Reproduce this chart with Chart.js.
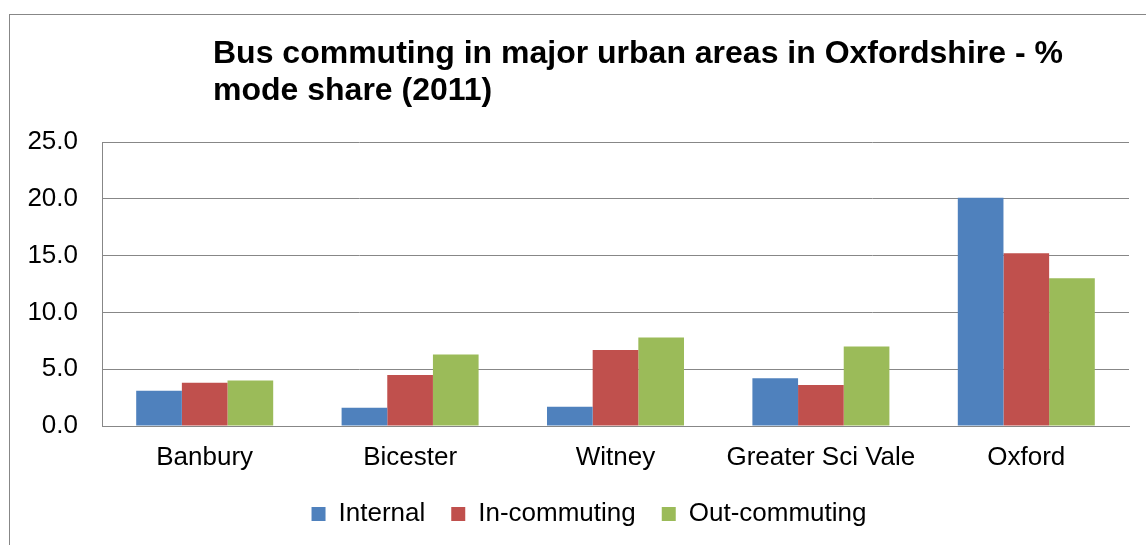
<!DOCTYPE html>
<html>
<head>
<meta charset="utf-8">
<title>Bus commuting in major urban areas in Oxfordshire</title>
<script src="https://cdn.jsdelivr.net/npm/chart.js@4/dist/chart.umd.min.js"></script>
<style>
    html, body { margin: 0; padding: 0; background: #fff; overflow: hidden; }
    canvas { display: block; }
</style>
</head>
<body>
<canvas id="busChart" width="1146" height="545"></canvas>
<script>
// Data
const areas = ["Banbury", "Bicester", "Witney", "Greater Sci Vale", "Oxford"];
const internal = [3.1, 1.6, 1.7, 4.2, 20.1];
const inCommuting = [3.8, 4.5, 6.7, 3.6, 15.2];
const outCommuting = [4.0, 6.3, 7.8, 7.0, 13.0];
const seriesNames = ["Internal", "In-commuting", "Out-commuting"];
const titleLines = ["Bus commuting in major urban areas in Oxfordshire - %", "mode share (2011)"];

const colors = ["#4F81BD", "#C0504D", "#9BBB59"];
const gridColor = "#878787";
const fontFamily = "'Liberation Sans', Arial, sans-serif";

// Chart frame and title (title sits off-centre, as in the original)
const frameAndTitle = {
    id: 'frameAndTitle',
    afterLayout(chart) {
        // legend in the original is centred a bit right of the canvas middle
        if (chart.legend) chart.legend.left += 21;
    },
    beforeDraw(chart) {
        const ctx = chart.ctx;
        ctx.save();
        ctx.fillStyle = '#fff';
        ctx.fillRect(0, 0, chart.width, chart.height);
        ctx.strokeStyle = gridColor;
        ctx.lineWidth = 1;
        ctx.strokeRect(9.5, 14.5, 3000, 3000);
        ctx.restore();
    },
    afterDraw(chart) {
        const ctx = chart.ctx;
        ctx.save();
        ctx.font = "bold 32px " + fontFamily;
        ctx.fillStyle = '#000';
        ctx.textAlign = 'left';
        ctx.textBaseline = 'alphabetic';
        ctx.fillText(titleLines[0], 213, 63);
        ctx.fillText(titleLines[1], 213, 100);
        ctx.restore();
    }
};

const seriesData = [internal, inCommuting, outCommuting];

new Chart(document.getElementById('busChart').getContext('2d'), {
    type: 'bar',
    data: {
        labels: areas,
        datasets: seriesNames.map((name, i) => ({
            label: name,
            data: seriesData[i],
            backgroundColor: colors[i],
            borderWidth: 0,
            categoryPercentage: 0.667,
            barPercentage: 1.0
        }))
    },
    options: {
        responsive: false,
        animation: false,
        layout: {
            padding: { top: 142, left: 28, right: 17, bottom: 8 }
        },
        plugins: {
            title: { display: false },
            tooltip: { enabled: false },
            legend: {
                position: 'bottom',
                labels: {
                    boxWidth: 14,
                    boxHeight: 14,
                    padding: 26,
                    color: '#000',
                    font: { family: fontFamily, size: 26 }
                }
            }
        },
        scales: {
            x: {
                grid: { display: false, drawTicks: false },
                border: { display: true, color: gridColor, width: 1 },
                ticks: {
                    color: '#000',
                    padding: 16,
                    maxRotation: 0,
                    autoSkip: false,
                    font: { family: fontFamily, size: 26 }
                },
                afterFit(scale) { scale.height = 49; }
            },
            y: {
                min: 0,
                max: 25,
                grid: { color: gridColor, lineWidth: 1, drawTicks: false },
                border: { display: true, color: gridColor, width: 1 },
                ticks: {
                    stepSize: 5,
                    padding: 24,
                    color: '#000',
                    font: { family: fontFamily, size: 26 },
                    callback: v => v.toFixed(1)
                },
                afterFit(scale) { scale.width = 74; }
            }
        }
    },
    plugins: [frameAndTitle]
});
</script>
</body>
</html>
